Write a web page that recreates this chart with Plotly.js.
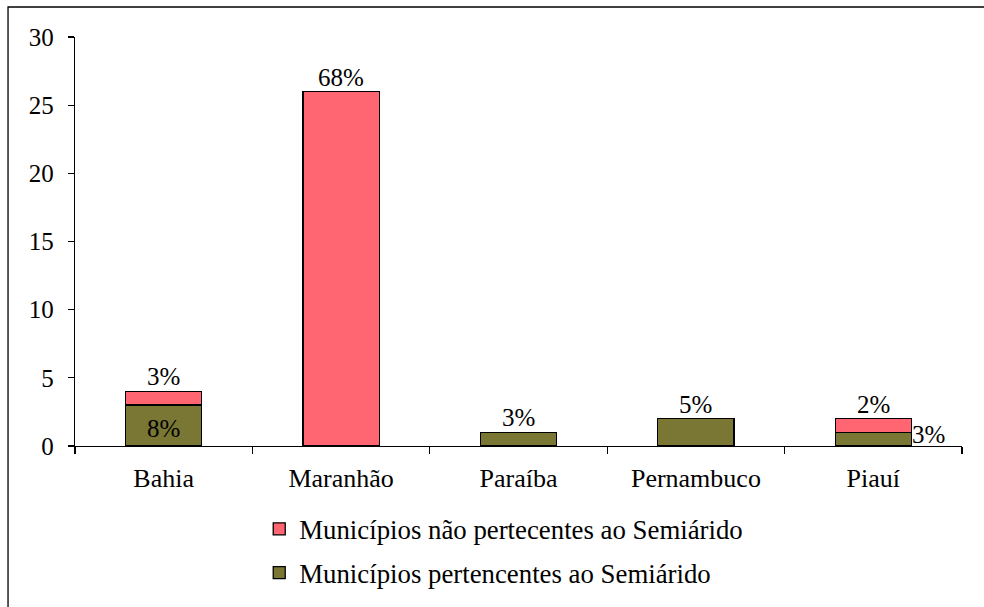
<!DOCTYPE html>
<html>
<head>
<meta charset="utf-8">
<script src="https://cdn.plot.ly/plotly-3.0.1.min.js"></script>
<style>
html,body{margin:0;padding:0;background:#fff;}
#chart{width:984px;height:607px;}
</style>
</head>
<body>
<div id="chart"></div>
<script>
// ---- data ----
const categories = ['Bahia', 'Maranhão', 'Paraíba', 'Pernambuco', 'Piauí'];
const semiarido = [3, 0, 1, 2, 1];          // Municípios pertencentes ao Semiárido
const naoSemiarido = [1, 26, 0, 0, 1];      // Municípios não pertecentes ao Semiárido
const semiLabels = ['8%', '', '3%', '5%', '3%'];
const naoLabels = ['3%', '68%', '', '', '2%'];
const nameSemi = 'Municípios pertencentes ao Semiárido';
const nameNao = 'Municípios não pertecentes ao Semiárido';
const topText = 'Semiárido e municípios com presença pertencentes ao Semiárido (2000-2007).';

// ---- style ----
const FONT = 'Liberation Serif';
const OLIVE = '#7A7634';
const PINK = '#FF6671';
const semiPlacement = {'Bahia': 'inside', 'Piauí': 'right'};

const traces = [
  {type: 'bar', x: categories, y: semiarido, name: nameSemi, legendgroup: 'a', legendrank: 2,
   marker: {color: OLIVE, line: {color: '#000', width: 1.3}}, hoverinfo: 'skip'},
  {type: 'bar', x: categories, y: naoSemiarido, name: nameNao, legendgroup: 'b', legendrank: 1,
   marker: {color: PINK, line: {color: '#000', width: 1.3}}, hoverinfo: 'skip'}
];

const annotations = [];
categories.forEach((c, i) => {
  const lf = {family: FONT, size: 25, color: '#000'};
  if (semiLabels[i]) {
    const place = naoSemiarido[i] > 0 ? (semiPlacement[c] || 'inside') : 'top';
    if (place === 'inside') {
      annotations.push({x: c, y: semiarido[i] / 2, text: semiLabels[i], showarrow: false,
        xref: 'x', yref: 'y', yanchor: 'middle', yshift: -3, font: lf});
    } else if (place === 'right') {
      annotations.push({x: c, y: 0, text: semiLabels[i], showarrow: false,
        xref: 'x', yref: 'y', xanchor: 'left', yanchor: 'bottom', xshift: 37, yshift: -4, font: lf});
    } else {
      annotations.push({x: c, y: semiarido[i], text: semiLabels[i], showarrow: false,
        xref: 'x', yref: 'y', yanchor: 'bottom', yshift: -1, font: lf});
    }
  }
  if (naoLabels[i]) {
    annotations.push({x: c, y: semiarido[i] + naoSemiarido[i], text: naoLabels[i], showarrow: false,
      xref: 'x', yref: 'y', yanchor: 'bottom', yshift: -1, font: lf});
  }
});
annotations.push({xref: 'paper', yref: 'paper', x: -0.0846, y: 1.075, xanchor: 'left', yanchor: 'bottom',
  yshift: 6, text: topText, showarrow: false, font: {family: FONT, size: 25, color: '#000'}});

const layout = {
  width: 984, height: 607,
  margin: {l: 75, r: 22, t: 37, b: 161, autoexpand: false},
  paper_bgcolor: '#fff', plot_bgcolor: '#fff',
  barmode: 'stack', bargap: 0.57,
  font: {family: FONT, size: 25, color: '#000'},
  xaxis: {
    showline: true, linecolor: '#000', linewidth: 1.3,
    ticks: 'outside', tickson: 'boundaries', ticklen: 7, tickcolor: '#000', tickwidth: 1.3,
    tickfont: {family: FONT, size: 26, color: '#000'}, showgrid: false, zeroline: false,
    ticklabelstandoff: 8, fixedrange: true, automargin: false
  },
  yaxis: {
    range: [0, 30], dtick: 5, tick0: 0,
    showline: true, linecolor: '#000', linewidth: 1.3,
    ticks: 'outside', ticklen: 6, tickcolor: '#000', tickwidth: 1.3,
    tickfont: {family: FONT, size: 25, color: '#000'}, showgrid: false, zeroline: false,
    ticklabelstandoff: 9, fixedrange: true, automargin: false
  },
  showlegend: true,
  legend: {
    x: 0.2077, y: -0.144, xanchor: 'left', yanchor: 'top',
    traceorder: 'grouped', tracegroupgap: 6,
    font: {family: FONT, size: 26.8, color: '#000'},
    bgcolor: 'rgba(0,0,0,0)', itemwidth: 30
  },
  annotations: annotations,
  shapes: [
    {type: 'rect', xref: 'paper', yref: 'paper', x0: -0.0755, x1: 1.05, y0: -0.45, y1: 1.0733,
     line: {color: '#000', width: 1.3}, fillcolor: 'rgba(0,0,0,0)', layer: 'below'}
  ]
};

Plotly.newPlot('chart', traces, layout, {displayModeBar: false, staticPlot: true});
</script>
</body>
</html>
